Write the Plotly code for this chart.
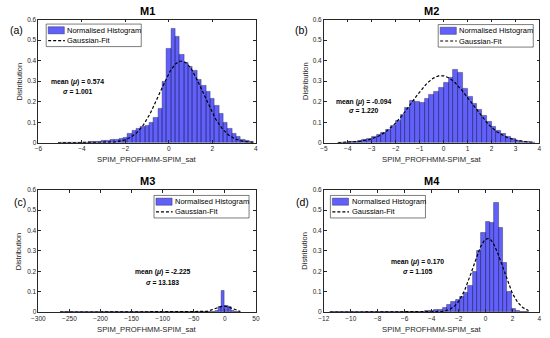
import numpy as np
import plotly.graph_objects as go

# ---------------- data ----------------
panel_titles = ["M1", "M2", "M3", "M4"]
panel_labels = ["(a)", "(b)", "(c)", "(d)"]
means = [0.574, -0.094, -2.225, 0.170]
sigmas = [1.001, 1.220, 13.183, 1.105]

# M1 histogram (bin width 0.2)
m1_centers = [round(-5.0 + 0.2 * k, 2) for k in range(45)]
m1_values = [0.002, 0.002, 0.001, 0.001, 0.002, 0.002, 0.002, 0.003, 0.004, 0.006,
             0.009, 0.012, 0.013, 0.015, 0.018, 0.027, 0.045, 0.058, 0.070, 0.078,
             0.085, 0.100, 0.120, 0.165, 0.300, 0.460, 0.555, 0.515, 0.430, 0.390,
             0.370, 0.350, 0.310, 0.280, 0.250, 0.215, 0.180, 0.140, 0.100, 0.070,
             0.045, 0.028, 0.016, 0.008, 0.004]
m1_width = 0.2

# M2 histogram (bin width 0.2)
m2_centers = [round(-4.3 + 0.2 * k, 2) for k in range(41)]
m2_values = [0.001, 0.002, 0.003, 0.006, 0.009, 0.014, 0.022, 0.030, 0.040, 0.050,
             0.065, 0.085, 0.110, 0.135, 0.170, 0.205, 0.200, 0.195, 0.215, 0.235,
             0.250, 0.270, 0.295, 0.315, 0.355, 0.340, 0.265, 0.225, 0.190, 0.160,
             0.130, 0.105, 0.080, 0.060, 0.042, 0.028, 0.018, 0.011, 0.007, 0.004,
             0.002]
m2_width = 0.2

# M3 histogram (bin width 5)
m3_centers = [-262.5 + 5 * k for k in range(58)]
m3_values = [0.0005, 0.0004, 0.0004, 0.0005, 0.0004, 0.0004, 0.0005, 0.0004, 0.0004, 0.0005,
             0.0004, 0.0004, 0.0005, 0.0004, 0.0004, 0.0005, 0.0004, 0.0004, 0.0005, 0.0004,
             0.0004, 0.0005, 0.0004, 0.0004, 0.0005, 0.0004, 0.0004, 0.0005, 0.0004, 0.0004,
             0.0005, 0.0004, 0.0004, 0.0005, 0.0004, 0.0004, 0.0005, 0.0004, 0.0005, 0.0005,
             0.0006, 0.0006, 0.0007, 0.0008, 0.0009, 0.001, 0.001, 0.002, 0.003, 0.004,
             0.008, 0.025, 0.103, 0.032, 0.028, 0.008, 0.003, 0.001]
m3_width = 5

# M4 histogram (bin width 0.32)
m4_centers = [round(-11.36 + 0.32 * k, 2) for k in range(46)]
m4_values = [0.001, 0.001, 0.001, 0.001, 0.001, 0.001, 0.001, 0.001, 0.001, 0.001,
             0.001, 0.001, 0.001, 0.001, 0.001, 0.001, 0.002, 0.001, 0.002, 0.002,
             0.002, 0.003, 0.005, 0.008, 0.011, 0.014, 0.020, 0.035, 0.050, 0.060,
             0.075, 0.095, 0.130, 0.200, 0.300, 0.390, 0.443, 0.440, 0.534, 0.414,
             0.240, 0.100, 0.015, 0.008, 0.004, 0.002]
m4_width = 0.32

centers = [m1_centers, m2_centers, m3_centers, m4_centers]
values = [m1_values, m2_values, m3_values, m4_values]
widths = [m1_width, m2_width, m3_width, m4_width]

x_ranges = [[-6, 4], [-5, 4], [-300, 50], [-12, 4]]
x_dticks = [2, 1, 50, 2]
y_range = [0, 0.6]
x_title = "SPIM_PROFHMM-SPIM_sat"
y_title = "Distribution"
legend_names = ["Normalised Histogram", "Gaussian-Fit"]

# ---------------- layout helpers (pixels) ----------------
W, H = 550, 338
def px(x):
    return x / W
def py(y):
    return 1 - y / H

plot_boxes = [  # left, top, right, bottom in pixels
    (32, 16, 254, 141.7),
    (323.3, 16, 543.3, 141.7),
    (32, 189.7, 254, 314.7),
    (323.3, 189.7, 543.3, 314.7),
]
legend_pos = [(40, 20.5), (440, 21), (150, 195.5), (330, 195.5)]
stats_pos = [(72, 80, 89.5), (364, 100, 108.5), (159, 274, 284), (419, 263.5, 273)]
label_pos = [(10, 27), (300, 27), (13, 202), (302, 202)]

BAR_FILL = "rgba(0,0,245,0.62)"
BAR_EDGE = "rgba(20,20,60,0.75)"
AX_COL = "#262626"
FONT = "Liberation Sans, Arial, sans-serif"
DASH = "3px,2px"

fig = go.Figure()
shapes = []
annotations = []

def note(x, y, text, size, color="black", xanchor="center", angle=0):
    annotations.append(dict(x=px(x), y=py(y), xref="paper", yref="paper", text=text,
                            showarrow=False, textangle=angle,
                            font=dict(size=size, color=color, family=FONT),
                            xanchor=xanchor, yanchor="middle"))

for i in range(4):
    xa = "x" if i == 0 else f"x{i+1}"
    ya = "y" if i == 0 else f"y{i+1}"
    c = np.array(centers[i], dtype=float)
    w = widths[i]
    fig.add_trace(go.Bar(
        x=c, y=values[i], width=w, xaxis=xa, yaxis=ya,
        marker=dict(color=BAR_FILL, line=dict(color=BAR_EDGE, width=0.5)),
        showlegend=False, name=legend_names[0]))
    # Gaussian fit from the displayed mean and sigma
    xs = np.linspace(c[0] - w / 2, c[-1] + w / 2, 300)
    mu, sd = means[i], sigmas[i]
    ys = np.exp(-0.5 * ((xs - mu) / sd) ** 2) / (sd * np.sqrt(2 * np.pi))
    fig.add_trace(go.Scatter(
        x=xs, y=ys, mode="lines", xaxis=xa, yaxis=ya,
        line=dict(color="black", width=1.2, dash=DASH),
        showlegend=False, name=legend_names[1]))

    l, t, r, b = plot_boxes[i]
    ax_common = dict(showline=True, linecolor=AX_COL, linewidth=0.6, mirror="ticks",
                     ticks="inside", ticklen=3, tickcolor=AX_COL, tickwidth=0.6,
                     showgrid=False, zeroline=False, ticklabeloverflow="allow",
                     tickfont=dict(size=6.5, color=AX_COL, family=FONT))
    fig.layout[("xaxis" if i == 0 else f"xaxis{i+1}")] = dict(
        domain=[px(l), px(r)], anchor=ya, range=x_ranges[i], dtick=x_dticks[i],
        tick0=0, **ax_common)
    fig.layout[("yaxis" if i == 0 else f"yaxis{i+1}")] = dict(
        domain=[py(b), py(t)], anchor=xa, range=y_range, dtick=0.1, **ax_common)

    # axis titles
    note((l + r) / 2, b + 17.5, x_title, 7.7, AX_COL)
    note(l - 19.5, (t + b) / 2, y_title, 7.5, AX_COL, angle=-90)
    # subplot title
    note((l + r) / 2, t - 8.5, f"<b>{panel_titles[i]}</b>", 11)
    # panel label
    lx, ly = label_pos[i]
    note(lx, ly, panel_labels[i], 10.5)
    # statistics text
    sx, sy1, sy2 = stats_pos[i]
    note(sx, sy1, f"<b>mean (<i>μ</i>) = {means[i]:.3f}</b>", 6.8)
    note(sx, sy2, f"<b><i>σ</i> = {sigmas[i]:.3f}</b>", 6.8)
    # legend (drawn box)
    bx, by = legend_pos[i]
    shapes.append(dict(type="rect", xref="paper", yref="paper",
                       x0=px(bx), x1=px(bx + 97), y0=py(by + 23), y1=py(by),
                       fillcolor="white", line=dict(color="#262626", width=0.6)))
    shapes.append(dict(type="rect", xref="paper", yref="paper",
                       x0=px(bx + 2), x1=px(bx + 18.5), y0=py(by + 10), y1=py(by + 2.7),
                       fillcolor=BAR_FILL, line=dict(color=BAR_EDGE, width=0.5)))
    shapes.append(dict(type="line", xref="paper", yref="paper",
                       x0=px(bx + 2), x1=px(bx + 19), y0=py(by + 16.8), y1=py(by + 16.8),
                       line=dict(color="black", width=1.2, dash=DASH)))
    note(bx + 19.5, by + 6.5, legend_names[0], 7.5, xanchor="left")
    note(bx + 19.5, by + 16.8, legend_names[1], 7.5, xanchor="left")

fig.update_layout(
    width=W, height=H, margin=dict(l=0, r=0, t=0, b=0),
    paper_bgcolor="white", plot_bgcolor="white",
    barmode="overlay", bargap=0, showlegend=False,
    shapes=shapes, annotations=annotations,
    font=dict(family=FONT),
)

# remove the browser's default 8px page margin so the figure fills the window
fig.write_html("out.html", config={"displayModeBar": False},
               post_script="document.body.style.margin='0';document.body.style.overflow='hidden';")
